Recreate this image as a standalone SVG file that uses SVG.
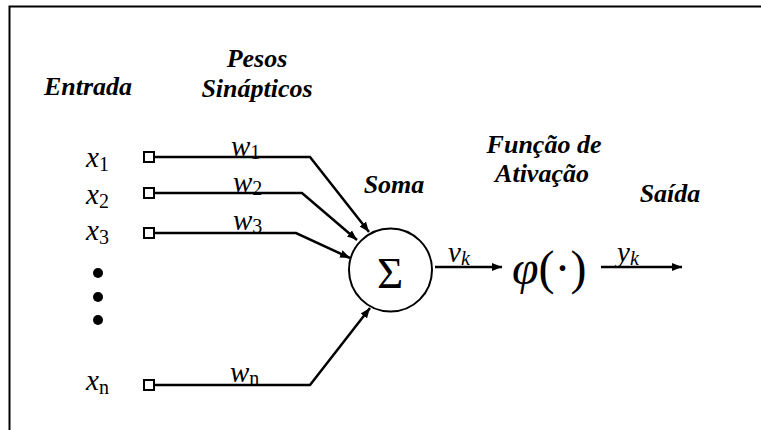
<svg xmlns="http://www.w3.org/2000/svg" width="761" height="430" viewBox="0 0 761 430">
<defs>
<marker id="ah" viewBox="0 0 10 8" refX="10" refY="4" markerWidth="10" markerHeight="8" markerUnits="userSpaceOnUse" orient="auto">
<path d="M0,0 L10,4 L0,8 Z" fill="#000"/>
</marker>
</defs>
<style>
text{font-family:"Liberation Serif","Times New Roman",serif;fill:#000}
.lbl{font-weight:bold;font-style:italic;font-size:26px;text-anchor:middle}
.m{font-style:italic;font-size:29px}
.sub{font-style:normal;font-size:20px}
.subi{font-style:italic;font-size:20px}
.arr{fill:none;stroke:#000;stroke-width:2.5;marker-end:url(#ah)}
.sq{fill:#fff;stroke:#000;stroke-width:2}
</style>
<rect x="0" y="0" width="761" height="430" fill="#fff"/>
<path d="M9.5,440 L9.5,6.5 L770,6.5" fill="none" stroke="#000" stroke-width="2"/>

<g id="labels">
<text class="lbl" x="88" y="95">Entrada</text>
<text class="lbl" x="257" y="67">Pesos</text>
<text class="lbl" x="257" y="97">Sinápticos</text>
<text class="lbl" x="394" y="193">Soma</text>
<text class="lbl" x="544" y="153">Função de</text>
<text class="lbl" x="542" y="182">Ativação</text>
<text class="lbl" x="670" y="202">Saída</text>
</g>

<g id="inputs">
<text class="m" x="86" y="167">x<tspan class="sub" dy="4">1</tspan></text>
<text class="m" x="86" y="204">x<tspan class="sub" dy="4">2</tspan></text>
<text class="m" x="86" y="240">x<tspan class="sub" dy="4">3</tspan></text>
<text class="m" x="86" y="390">x<tspan class="sub" dy="4">n</tspan></text>
<circle cx="98" cy="273" r="5"/>
<circle cx="98" cy="297" r="5"/>
<circle cx="98" cy="320" r="5"/>
</g>

<g id="connectors">
<path class="arr" d="M154,157 L310,157 L369,232"/>
<path class="arr" d="M154,193 L302,193 L357,240"/>
<path class="arr" d="M154,233 L296,233 L350,258"/>
<path class="arr" d="M154,385 L310,385 L370,308"/>
<path class="arr" d="M435,267 L502,267"/>
<path class="arr" d="M601,267 L682,267"/>
</g>

<g id="squares">
<rect class="sq" x="144" y="152" width="10" height="10"/>
<rect class="sq" x="144" y="188" width="10" height="10"/>
<rect class="sq" x="144" y="228" width="10" height="10"/>
<rect class="sq" x="144" y="380" width="10" height="10"/>
</g>

<g id="weights">
<text class="m" x="231" y="156">w<tspan class="sub" dy="3">1</tspan></text>
<text class="m" x="233" y="192">w<tspan class="sub" dy="3">2</tspan></text>
<text class="m" x="233" y="230">w<tspan class="sub" dy="3">3</tspan></text>
<text class="m" x="230" y="382">w<tspan class="sub" dy="3">n</tspan></text>
</g>

<g id="soma">
<circle cx="390.5" cy="270" r="41.5" fill="#fff" stroke="#000" stroke-width="2"/>
<text x="390" y="288" font-size="45" text-anchor="middle">Σ</text>
</g>

<g id="signals">
<text class="m" x="448" y="262">v<tspan class="subi" dy="3">k</tspan></text>
<text class="m" x="617" y="262">y<tspan class="subi" dy="3">k</tspan></text>
</g>

<g id="ativacao">
<text x="512" y="284" font-size="48"><tspan font-style="italic">φ</tspan>(·)</text>
</g>
</svg>
